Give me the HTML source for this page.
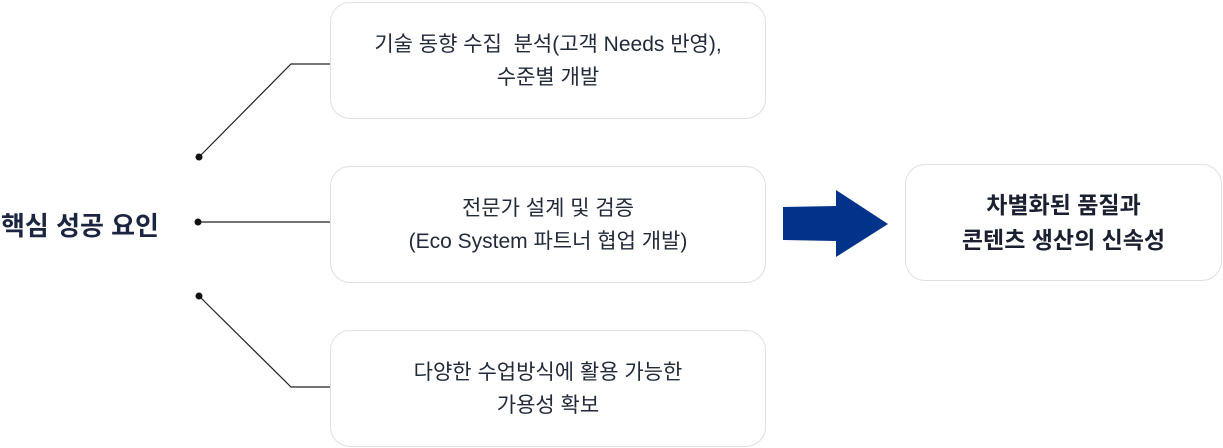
<!DOCTYPE html>
<html><head><meta charset="utf-8"><style>
body{margin:0;width:1223px;height:448px;background:#fff;position:relative;overflow:hidden;font-family:"Liberation Sans","Noto Sans CJK KR",sans-serif;color:#222a3a}
.b{position:absolute;box-sizing:border-box;border:1px solid #dfdfe6;border-radius:20px;background:#fff;display:flex;align-items:center;justify-content:center;text-align:center;font-size:21px;line-height:33px}
.t{position:absolute;left:1px;top:206px;font-size:26px;font-weight:bold;color:#1b2440}
</style></head><body>
<svg width="1223" height="448" style="position:absolute;left:0;top:0">
<polyline points="199,157 291,64 330,64" fill="none" stroke="#222" stroke-width="1.2"/>
<line x1="199" y1="222" x2="330" y2="222" stroke="#222" stroke-width="1.2"/>
<polyline points="199,296 291,387 330,387" fill="none" stroke="#222" stroke-width="1.2"/>
<circle cx="199" cy="157" r="3.5" fill="#111"/>
<circle cx="198" cy="222" r="3.5" fill="#111"/>
<circle cx="199" cy="296" r="3.5" fill="#111"/>
<polygon points="783,207 836,206 836,190 888,224 836,257 836,241 783,240" fill="#01338a"/>
</svg>
<div class="t">핵심 성공 요인</div>
<div class="b" style="left:330px;top:2px;width:436px;height:117px">기술 동향 수집&nbsp; 분석(고객 Needs 반영),<br>수준별 개발</div>
<div class="b" style="left:330px;top:166px;width:436px;height:117px">전문가 설계 및 검증<br>(Eco System 파트너 협업 개발)</div>
<div class="b" style="left:330px;top:330px;width:436px;height:117px">다양한 수업방식에 활용 가능한<br>가용성 확보</div>
<div class="b" style="left:905px;top:164px;width:317px;height:117px;font-weight:bold;font-size:23px;line-height:35px;color:#1b2030">차별화된 품질과<br>콘텐츠 생산의 신속성</div>
</body></html>
